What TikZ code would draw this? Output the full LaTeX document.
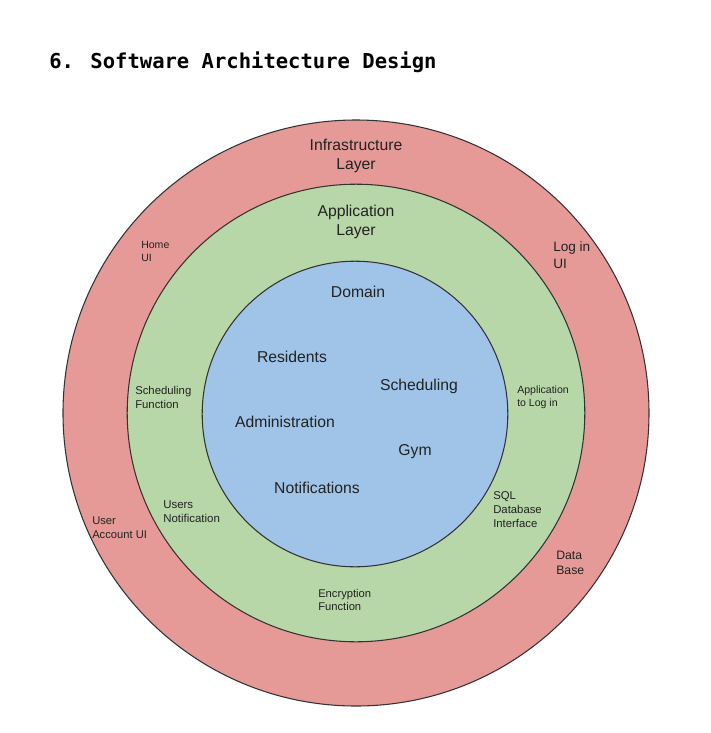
\documentclass[tikz,border=0pt]{standalone}
\usepackage{fontspec}
\setmainfont{Liberation Sans}
\newfontfamily\titlefont{DejaVu Sans Mono}
\definecolor{infra}{HTML}{E69A98}
\definecolor{appl}{HTML}{B8D7A8}
\definecolor{dom}{HTML}{A0C4E8}
\definecolor{ink}{HTML}{222222}
\definecolor{edge}{HTML}{333333}
\begin{document}
\begin{tikzpicture}[x=0.75pt,y=-0.75pt,
  ring/.style={draw=edge,line width=0.8pt},
  big/.style={inner sep=0pt,text=ink,align=center,font=\fontsize{11.8}{14.25}\selectfont},
  small/.style={inner sep=0pt,text=ink,align=left,anchor=west,font=\fontsize{8.4}{10.5}\selectfont}]
\useasboundingbox (0,0) rectangle (711,733);
\node[inner sep=0pt,anchor=west,font=\titlefont\bfseries\fontsize{15.4}{18}\selectfont] (title) at (49,62) {6. Software Architecture Design};
\fill[infra,ring] (356,413) circle[radius=219.75pt];
\fill[appl,ring] (356,413) circle[radius=171.6pt];
\fill[dom,ring] (355,414) circle[radius=114.6pt];
% layer titles
\node[big] (infra) at (356,155.5) {Infrastructure\\Layer};
\node[big] (app) at (356,221.5) {Application\\Layer};
\node[big] (domain) at (358,292) {Domain};
% domain items
\node[big] (res) at (292,357) {Residents};
\node[big] (sch) at (419,386) {Scheduling};
\node[big] (adm) at (285,422) {Administration};
\node[big] (gym) at (415,452) {Gym};
\node[big] (notif) at (317,488) {Notifications};
% infrastructure items
\node[small,font=\fontsize{7.9}{9.75}\selectfont] (home) at (141,251.5) {Home\\UI};
\node[small,font=\fontsize{10.2}{12.75}\selectfont] (login) at (553,255.5) {Log in\\UI};
\node[small] (uacc) at (92,528) {User\\Account UI};
\node[small,font=\fontsize{9.2}{11.25}\selectfont] (db) at (556,563) {Data\\Base};
% application items
\node[small,font=\fontsize{8.5}{10.5}\selectfont] (schf) at (135,397) {Scheduling\\Function};
\node[small,font=\fontsize{7.9}{9.75}\selectfont] (applog) at (517,397.5) {Application\\to Log in};
\node[small,font=\fontsize{8.6}{10.5}\selectfont] (usersn) at (163,512) {Users\\Notification};
\node[small,font=\fontsize{8.5}{10.5}\selectfont] (sql) at (493,510) {SQL\\Database\\Interface};
\node[small,font=\fontsize{8.4}{9.75}\selectfont] (enc) at (318,599.5) {Encryption\\Function};
\end{tikzpicture}
\end{document}
